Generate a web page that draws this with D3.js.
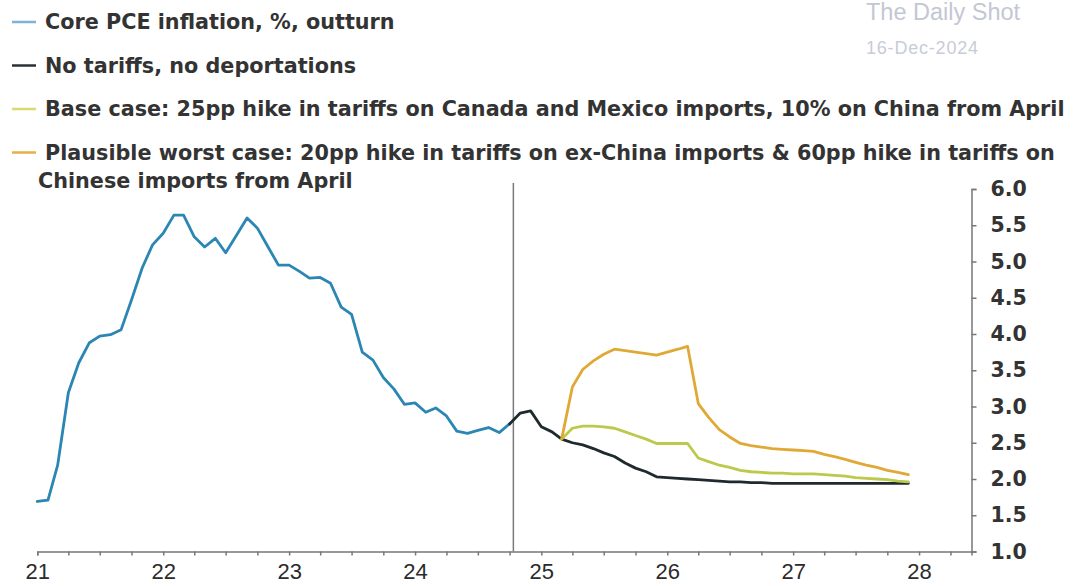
<!DOCTYPE html>
<html>
<head>
<meta charset="utf-8">
<script src="https://cdn.jsdelivr.net/npm/d3@7"></script>
<style>
  html, body { margin: 0; padding: 0; background: #ffffff; }
  svg { display: block; }
</style>
</head>
<body>
<svg id="chart" width="1073" height="586"></svg>
<script>
// ---------------- DATA ----------------
const startMonth = "2021-01";           // first monthly observation
// Core PCE outturn, Jan 2021 – Oct 2024
const coreOutturn = [1.69,1.71,2.19,3.19,3.60,3.88,3.97,3.99,4.06,4.47,4.91,5.23,
                     5.39,5.64,5.64,5.34,5.20,5.32,5.12,5.36,5.60,5.46,5.20,4.95,
                     4.95,4.86,4.77,4.78,4.70,4.37,4.27,3.75,3.64,3.40,3.24,3.03,
                     3.05,2.92,2.98,2.87,2.66,2.63,2.67,2.71,2.64,2.76];
const coreStartIndex = 0;
// No tariffs, no deportations: Oct 2024 – Dec 2027
const noTariffs = [2.76,2.91,2.94,2.72,2.65,2.55,2.50,2.47,2.42,2.36,2.31,2.22,
                   2.15,2.10,2.03,2.02,2.01,2.00,1.99,1.98,1.97,1.96,1.96,1.95,
                   1.95,1.94,1.94,1.94,1.94,1.94,1.94,1.94,1.94,1.94,1.94,1.94,
                   1.94,1.94,1.94];
const noTariffsStartIndex = 45;
// Base case: Mar 2025 – Dec 2027
const baseCase = [2.55,2.70,2.73,2.73,2.72,2.70,2.65,2.60,2.55,2.49,2.49,2.49,
                  2.49,2.29,2.24,2.19,2.16,2.12,2.10,2.09,2.08,2.08,2.07,2.07,
                  2.07,2.06,2.05,2.04,2.02,2.01,2.00,1.99,1.97,1.96];
const baseStartIndex = 50;
// Plausible worst case: Mar 2025 – Dec 2027
const worstCase = [2.55,3.27,3.51,3.63,3.72,3.79,3.77,3.75,3.73,3.71,3.75,3.79,
                   3.83,3.04,2.85,2.68,2.58,2.49,2.46,2.44,2.42,2.41,2.40,2.39,
                   2.38,2.34,2.31,2.27,2.23,2.19,2.16,2.12,2.09,2.06];
const worstStartIndex = 50;

const seriesNames = ["Core PCE inflation, %, outturn", "No tariffs, no deportations",
  "Base case: 25pp hike in tariffs on Canada and Mexico imports, 10% on China from April",
  "Plausible worst case: 20pp hike in tariffs on ex-China imports & 60pp hike in tariffs on|Chinese imports from April"];
const seriesColors = ["#2b86b3", "#1f2a2e", "#bcc94a", "#e0a935"];
const legendColors = ["#7fb2d6", "#2a3236", "#d9d970", "#e3b245"];

const xDomain = ["2021-01-01", "2028-06-01"];
const yDomain = [1, 6];
const yTicks = [1.0, 1.5, 2.0, 2.5, 3.0, 3.5, 4.0, 4.5, 5.0, 5.5, 6.0];
const forecastMarker = "2024-10-12";
const sourceTitle = "The Daily Shot";
const sourceDate = "16-Dec-2024";

// ---------------- CHART ----------------
const svg = d3.select("#chart");
const parseDay = d3.timeParse("%Y-%m-%d");
const start = d3.timeParse("%Y-%m")(startMonth);

const x = d3.scaleTime().domain(xDomain.map(parseDay)).range([37.3, 971.5]);
const y = d3.scaleLinear().domain(yDomain).range([551.5, 189]);

function toPoints(vals, offset) {
  return vals.map((v, i) => ({ date: d3.timeMonth.offset(start, offset + i), value: v }));
}
const series = [
  toPoints(coreOutturn, coreStartIndex),
  toPoints(noTariffs, noTariffsStartIndex),
  toPoints(baseCase, baseStartIndex),
  toPoints(worstCase, worstStartIndex)
];

// vertical marker line
svg.append("line")
  .attr("x1", x(parseDay(forecastMarker))).attr("x2", x(parseDay(forecastMarker)))
  .attr("y1", 183).attr("y2", y(1))
  .attr("stroke", "#7a7a7a").attr("stroke-width", 1.5);

// X axis
const xAxisG = svg.append("g").attr("transform", `translate(0,${y(1)})`)
  .call(d3.axisBottom(x)
    .ticks(d3.timeMonth.every(3))
    .tickSize(4)
    .tickFormat(d => d.getMonth() === 0 ? d3.timeFormat("%y")(d) : ""));
xAxisG.select(".domain").attr("stroke", "#777").attr("stroke-width", 1.5);
xAxisG.selectAll(".tick line").attr("stroke", "#777").attr("stroke-width", 1.5);
xAxisG.selectAll(".tick text")
  .attr("y", 12).attr("dy", "0.71em")
  .attr("fill", "#2b2b2b")
  .style("font-family", "'Liberation Sans Narrow', 'Liberation Sans', Arial, sans-serif")
  .style("font-size", "22px");

// Y axis (right)
const yAxisG = svg.append("g").attr("transform", `translate(${x.range()[1]},0)`)
  .call(d3.axisRight(y).tickValues(yTicks).tickSize(5).tickPadding(14).tickFormat(d3.format(".1f")));
yAxisG.select(".domain").attr("stroke", "#777").attr("stroke-width", 1.5);
yAxisG.selectAll(".tick line").attr("stroke", "#777").attr("stroke-width", 1.5);
yAxisG.selectAll(".tick text")
  .attr("fill", "#333")
  .style("font-family", "'DejaVu Sans', sans-serif")
  .style("font-weight", "bold")
  .style("font-size", "20.5px");

// lines
const line = d3.line().x(d => x(d.date)).y(d => y(d.value));
svg.append("g").selectAll("path")
  .data(series)
  .join("path")
  .attr("d", line)
  .attr("fill", "none")
  .attr("stroke", (d, i) => seriesColors[i])
  .attr("stroke-width", 2.8)
  .attr("stroke-linejoin", "round")
  .attr("stroke-linecap", "round");

// legend
const legendFont = "'DejaVu Sans', sans-serif";
const baselines = [29, 72.5, 116, 159.5];
const legend = svg.append("g");
const legendTexts = [];
seriesNames.forEach((name, i) => {
  const lines = name.split("|");
  legend.append("line")
    .attr("x1", 12).attr("x2", 36)
    .attr("y1", baselines[i] - 7).attr("y2", baselines[i] - 7)
    .attr("stroke", legendColors[i]).attr("stroke-width", 2.5);
  lines.forEach((t, j) => {
    const tx = legend.append("text")
      .attr("x", j === 0 ? 45 : 38)
      .attr("y", baselines[i] + j * 28)
      .attr("fill", "#333")
      .style("font-family", legendFont)
      .style("font-weight", "bold")
      .style("font-size", "20px")
      .text(t);
    legendTexts.push(tx);
  });
});
// fit the longest legend line to the reference width
const probe = legendTexts[2].node().getComputedTextLength();
const fitted = Math.min(22, 20 * 1020 / probe);
legendTexts.forEach(t => t.style("font-size", fitted + "px"));

// source watermark
svg.append("text").attr("x", 866).attr("y", 20)
  .attr("fill", "#c3c7d4")
  .style("font-family", "'Liberation Sans', Arial, sans-serif")
  .style("font-size", "23.5px")
  .text(sourceTitle);
svg.append("text").attr("x", 866).attr("y", 54)
  .attr("fill", "#c8ccd8")
  .style("font-family", "'Liberation Sans', Arial, sans-serif")
  .style("font-size", "18px")
  .style("letter-spacing", "0.8px")
  .text(sourceDate);
</script>
</body>
</html>
